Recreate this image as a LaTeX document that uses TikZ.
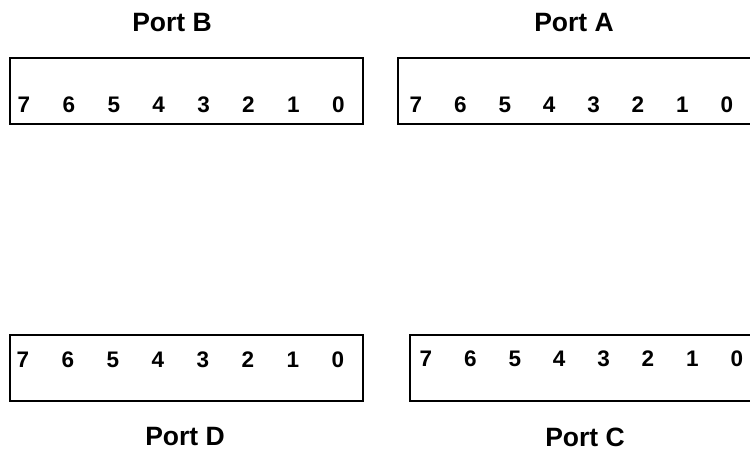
\documentclass[tikz,border=0pt]{standalone}
\usepackage{fontspec}
\setmainfont{Liberation Sans}
\begin{document}
\begin{tikzpicture}[x=1pt,y=-1pt,
  portbox/.style={draw=black,line width=1.8pt,fill=none},
  bitlabel/.style={font=\fontsize{22.5}{22.5}\selectfont\bfseries,inner sep=0pt,anchor=center},
  porttitle/.style={font=\fontsize{26.5}{26.5}\selectfont\bfseries,inner sep=0pt,anchor=center}]
\clip (0,0) rectangle (750,456);
\fill[white] (0,0) rectangle (750,456);
% boxes
\draw[portbox] (10,58) rectangle (363,124);
\draw[portbox] (398,58) rectangle (770,124);
\draw[portbox] (10,335) rectangle (363,401);
\draw[portbox] (410,335) rectangle (770,401);
% titles
\node[porttitle] (tB) at (172,23) {Port B};
\node[porttitle] (tA) at (574,23) {Port A};
\node[porttitle] (tD) at (185,437) {Port D};
\node[porttitle] (tC) at (585,437) {Port C};
% bits
\foreach \i in {0,...,7}{
  \pgfmathtruncatemacro{\b}{7-\i}
  \node[bitlabel] (b\b) at ({24+44.9*\i},105) {\b};
  \node[bitlabel] (a\b) at ({416+44.4*\i},105) {\b};
  \node[bitlabel] (d\b) at ({23+45*\i},360) {\b};
  \node[bitlabel] (c\b) at ({426+44.4*\i},359) {\b};
}
\end{tikzpicture}
\end{document}
